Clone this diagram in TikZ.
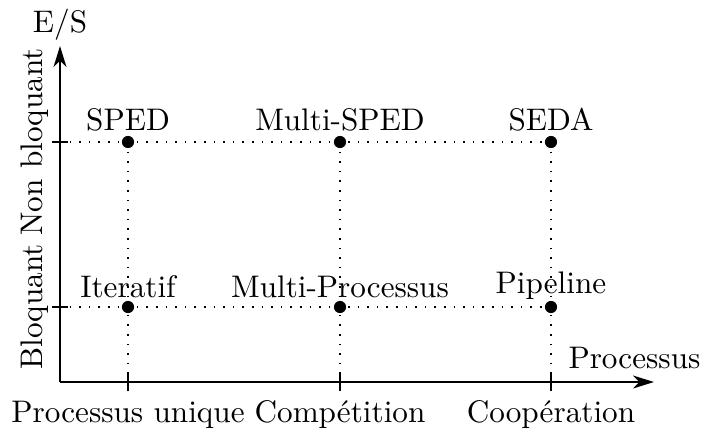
\documentclass[tikz,border=0pt]{standalone}
\usetikzlibrary{arrows.meta}
\begin{document}
\begin{tikzpicture}[x=0.25pt,y=-0.25pt,
  every node/.style={font=\fontsize{10}{12}\selectfont, scale=0.78, inner sep=0pt},
  axis/.style={line width=0.6pt},
  guide/.style={dotted, line width=0.4pt},
  dot/.style={circle, fill=black, minimum size=3.9pt, inner sep=0pt},
  lab/.style={anchor=base}]
\useasboundingbox (0,0) rectangle (704,429);
% axes
\coordinate (O) at (60,382);
\coordinate (ytip) at (60,46);
\coordinate (xtip) at (654,382);
\draw[axis,-{Stealth[length=5.2pt,width=3.2pt,inset=1.5pt]}] (O) -- (ytip);
\draw[axis,-{Stealth[length=5.2pt,width=3.2pt,inset=1.5pt]}] (O) -- (xtip);
% ticks
\coordinate (ya) at (60,142);
\coordinate (yb) at (60,307);
\coordinate (xa) at (128,382);
\coordinate (xb) at (340,382);
\coordinate (xc) at (551,382);
\foreach \t in {ya,yb} \draw[axis] ([xshift=-2pt]\t) -- ([xshift=2pt]\t);
\foreach \t in {xa,xb,xc} \draw[axis] ([yshift=-2.3pt]\t) -- ([yshift=2.3pt]\t);
% points
\coordinate (p11) at (128,142);
\coordinate (p12) at (340,142);
\coordinate (p13) at (551,142);
\coordinate (p21) at (128,307);
\coordinate (p22) at (340,307);
\coordinate (p23) at (551,307);
\draw[guide] (ya) -- (p13);
\draw[guide] (yb) -- (p23);
\draw[guide] (p11) -- (xa);
\draw[guide] (p12) -- (xb);
\draw[guide] (p13) -- (xc);
\foreach \p in {p11,p12,p13,p21,p22,p23} \node[dot] (d\p) at (\p) {};
% labels
\node[lab] (es) at (60,32) {E/S};
\node[anchor=base east] (xl) at (701,368) {Processus};
\node[lab,rotate=90] (bl) at (42,307) {Bloquant};
\node[lab,rotate=90] (nbl) at (42,142) {Non bloquant};
\node[lab] (t1) at (128,422) {Processus unique};
\node[lab] (t2) at (340,422) {Compétition};
\node[lab] (t3) at (551,422) {Coopération};
\node[lab] (l11) at (128,130) {SPED};
\node[lab] (l12) at (340,130) {Multi-SPED};
\node[lab] (l13) at (551,130) {SEDA};
\node[lab] (l21) at (128,297) {Iteratif};
\node[lab] (l22) at (340,297) {Multi-Processus};
\node[lab] (l23) at (551,293) {Pipeline};
\end{tikzpicture}
\end{document}
